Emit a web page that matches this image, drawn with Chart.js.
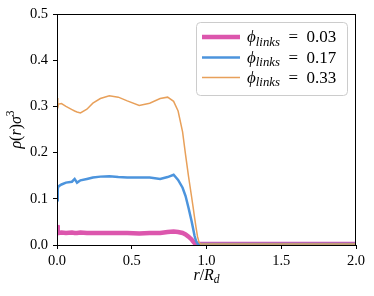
<!DOCTYPE html>
<html>
<head>
<meta charset="utf-8">
<script src="https://cdn.jsdelivr.net/npm/chart.js@4.4.0/dist/chart.umd.min.js"></script>
<style>
  body { margin: 0; background: #fff; }
  #c { display: block; }
</style>
</head>
<body>
<canvas id="c" width="374" height="296"></canvas>
<script>
// r / R_d grid
var rValues = [0, 0.005, 0.01, 0.03, 0.06, 0.10, 0.118, 0.134, 0.157, 0.2, 0.24, 0.29, 0.35, 0.41, 0.47, 0.55, 0.62, 0.69, 0.74, 0.78, 0.81, 0.84, 0.86, 0.88, 0.9, 0.91, 0.92, 0.93, 0.94, 0.95, 0.96, 1.0, 1.5, 2.0];

var rho003 = [0.043, 0.030, 0.026, 0.027, 0.026, 0.027, 0.026, 0.026, 0.027, 0.026, 0.026, 0.026, 0.026, 0.026, 0.026, 0.025, 0.026, 0.026, 0.028, 0.029, 0.028, 0.026, 0.023, 0.018, 0.012, 0.008, 0.004, 0.002, 0.002, 0.002, 0.002, 0.002, 0.002, 0.002];
var rho017 = [0.097, 0.122, 0.127, 0.131, 0.135, 0.137, 0.143, 0.135, 0.140, 0.143, 0.146, 0.148, 0.149, 0.147, 0.146, 0.146, 0.146, 0.143, 0.147, 0.152, 0.141, 0.124, 0.106, 0.080, 0.052, 0.036, 0.020, 0.009, 0.003, 0.002, 0.002, 0.002, 0.002, 0.002];
var rho033 = [0.318, 0.296, 0.305, 0.306, 0.300, 0.293, 0.290, 0.288, 0.286, 0.294, 0.307, 0.317, 0.323, 0.320, 0.312, 0.302, 0.307, 0.317, 0.320, 0.311, 0.290, 0.245, 0.195, 0.148, 0.105, 0.083, 0.060, 0.038, 0.018, 0.006, 0.002, 0.002, 0.002, 0.002];

var seriesNames = ['0.03', '0.17', '0.33'];
var xTicks = [0, 0.5, 1.0, 1.5, 2.0];
var yTicks = [0, 0.1, 0.2, 0.3, 0.4, 0.5];

var colors = ['#dc56ad', '#4c94dd', '#e8a05a'];
var widths = [4.5, 2.5, 1.5];
var serif = '"Liberation Serif", "DejaVu Serif", serif';

function pts(ys) {
    return rValues.map(function (r, i) { return { x: r, y: ys[i] }; });
}

// draws a run of text pieces: [text, italic, scale, dy]
function drawPieces(ctx, pieces, x, y, size, align) {
    var total = 0;
    pieces.forEach(function (p) {
        ctx.font = (p[1] ? 'italic ' : '') + (size * p[2]) + 'px ' + serif;
        total += ctx.measureText(p[0]).width;
    });
    var cx = align == 'center' ? x - total / 2 : x;
    pieces.forEach(function (p) {
        ctx.font = (p[1] ? 'italic ' : '') + (size * p[2]) + 'px ' + serif;
        ctx.fillText(p[0], cx, y + p[3]);
        cx += ctx.measureText(p[0]).width;
    });
}

var extras = {
    id: 'extras',
    afterDraw: function (chart) {
        var ctx = chart.ctx;
        var a = chart.chartArea;
        ctx.save();
        // frame
        ctx.strokeStyle = '#000';
        ctx.lineWidth = 1;
        ctx.strokeRect(a.left + 0.5, a.top + 0.5, a.right - a.left - 1, a.bottom - a.top);

        // legend
        ctx.beginPath();
        ctx.roundRect(196.5, 22.5, 151, 73, 4);
        ctx.fillStyle = 'rgba(255,255,255,0.8)';
        ctx.fill();
        ctx.strokeStyle = '#cccccc';
        ctx.stroke();
        ctx.textBaseline = 'alphabetic';
        ctx.fillStyle = '#000';
        var rows = [37, 57.5, 77.5];
        seriesNames.forEach(function (name, i) {
            ctx.beginPath();
            ctx.strokeStyle = colors[i];
            ctx.lineWidth = widths[i];
            ctx.moveTo(202, rows[i]);
            ctx.lineTo(240, rows[i]);
            ctx.stroke();
            drawPieces(ctx, [['ϕ', true, 1, 0], ['links', true, 0.75, 3.5], ['  =  ', false, 1, 0], [name, false, 1, 0]], 247, rows[i] + 5, 17, 'left');
        });

        // axis titles
        drawPieces(ctx, [['r', true, 1, 0], ['/', false, 1, 0], ['R', true, 1, 0], ['d', true, 0.72, 3]], (a.left + a.right) / 2, 280, 16, 'center');
        ctx.translate(21, (a.top + a.bottom) / 2);
        ctx.rotate(-Math.PI / 2);
        drawPieces(ctx, [['ρ', true, 1, 0], ['(', false, 1, 0], ['r', true, 1, 0], [')', false, 1, 0], ['σ', true, 1, 0], ['3', false, 0.72, -7]], 0, 0, 16, 'center');
        ctx.restore();
    }
};

var axisGrid = { drawOnChartArea: false, drawTicks: true, tickLength: 4, color: '#000', lineWidth: 1 };

new Chart(document.getElementById('c'), {
    type: 'line',
    data: {
        datasets: [
            { data: pts(rho003), borderColor: colors[0], borderWidth: widths[0], pointRadius: 0, tension: 0, order: 3 },
            { data: pts(rho017), borderColor: colors[1], borderWidth: widths[1], pointRadius: 0, tension: 0, order: 2 },
            { data: pts(rho033), borderColor: colors[2], borderWidth: widths[2], pointRadius: 0, tension: 0, order: 1 }
        ]
    },
    options: {
        responsive: false,
        animation: false,
        devicePixelRatio: 1,
        layout: { padding: { top: 14, right: 18, left: 0, bottom: 0 } },
        plugins: { legend: { display: false }, tooltip: { enabled: false } },
        scales: {
            x: {
                type: 'linear', min: 0, max: 2,
                afterBuildTicks: function (s) { s.ticks = xTicks.map(function (v) { return { value: v }; }); },
                afterFit: function (s) { s.height = 51; },
                ticks: { color: '#000', font: { family: serif, size: 14.5 }, padding: 3, maxRotation: 0,
                    callback: function (v) { return v.toFixed(1); } },
                grid: axisGrid,
                border: { color: '#000', width: 1 }
            },
            y: {
                min: 0, max: 0.5,
                afterBuildTicks: function (s) { s.ticks = yTicks.map(function (v) { return { value: v }; }); },
                afterFit: function (s) { s.width = 57; },
                ticks: { color: '#000', font: { family: serif, size: 14.5 }, padding: 5,
                    callback: function (v) { return v.toFixed(1); } },
                grid: axisGrid,
                border: { color: '#000', width: 1 }
            }
        }
    },
    plugins: [extras]
});
</script>
</body>
</html>
